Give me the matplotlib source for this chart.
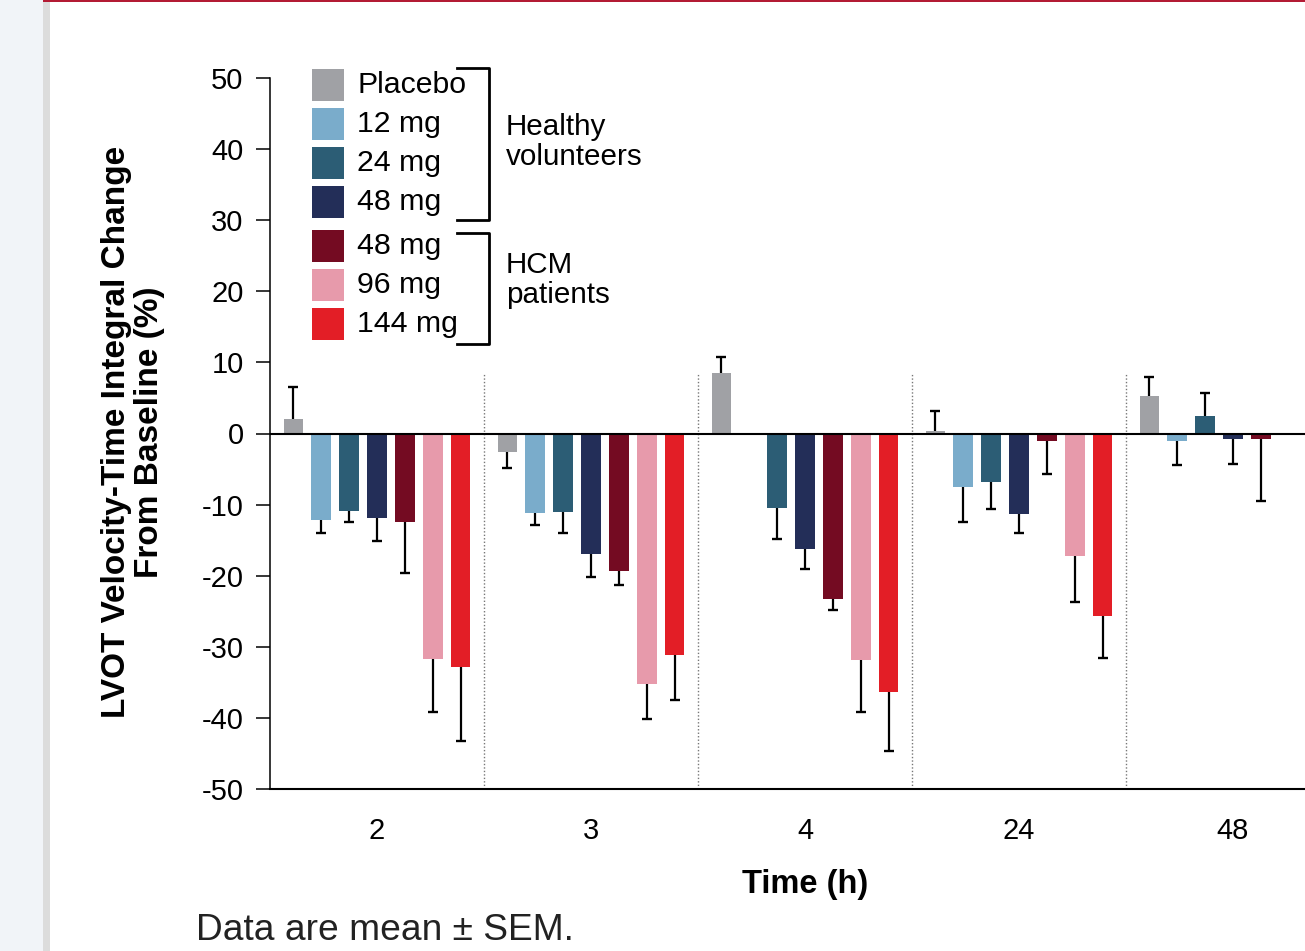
import numpy as np
import matplotlib
matplotlib.use("Agg")
import matplotlib.pyplot as plt
from matplotlib.patches import Rectangle
from matplotlib.lines import Line2D

plt.rcParams['font.family'] = ['Liberation Sans', 'DejaVu Sans']
plt.rcParams['axes.unicode_minus'] = False

# data
times = ['2', '3', '4', '24', '48']
labels = ['Placebo', '12 mg', '24 mg', '48 mg', '48 mg', '96 mg', '144 mg']
colors = ['#a0a1a5', '#7aaccb', '#2c5d75', '#232e58', '#740b22', '#e79aab', '#e31e26']

nan = np.nan
placebo = [2.0, -2.6, 8.5, 0.3, 5.3]
placebo_err = [4.6, 2.2, 2.3, 2.8, 2.6]
hv12 = [-12.2, -11.2, nan, -7.5, -1.1]
hv12_err = [1.8, 1.6, nan, 5.0, 3.4]
hv24 = [-10.9, -11.0, -10.5, -6.8, 2.5]
hv24_err = [1.5, 3.0, 4.4, 3.8, 3.2]
hv48 = [-11.9, -17.0, -16.3, -11.3, -0.8]
hv48_err = [3.2, 3.2, 2.8, 2.7, 3.5]
hcm48 = [-12.5, -19.3, -23.3, -1.1, -0.8]
hcm48_err = [7.1, 2.0, 1.5, 4.6, 8.7]
hcm96 = [-31.7, -35.2, -31.8, -17.2, nan]
hcm96_err = [7.5, 5.0, 7.3, 6.5, nan]
hcm144 = [-32.9, -31.1, -36.3, -25.7, nan]
hcm144_err = [10.4, 6.4, 8.3, 5.9, nan]

series = [placebo, hv12, hv24, hv48, hcm48, hcm96, hcm144]
errors = [placebo_err, hv12_err, hv24_err, hv48_err, hcm48_err, hcm96_err, hcm144_err]

W, H = 1305, 951
def fx(px):
    return px / W
def fy(py):
    return 1 - py / H

fig = plt.figure(figsize=(W / 100, H / 100), dpi=100)
fig.patch.set_facecolor('white')

# page decorations
fig.add_artist(Rectangle((0, 0), fx(43), 1, transform=fig.transFigure, color='#f1f4f8', lw=0))
fig.add_artist(Rectangle((fx(43), 0), fx(7), 1, transform=fig.transFigure, color='#dcdcdc', lw=0))
fig.add_artist(Rectangle((fx(43), fy(2)), 1, 2 / H, transform=fig.transFigure, color='#b31b34', lw=0))

ax = fig.add_axes([fx(270), fy(789), 1070 / W, (789 - 78) / H])
x = np.arange(len(times))
step = 0.1308
width = 0.089

for i, (vals, errs) in enumerate(zip(series, errors)):
    vals = np.array(vals, dtype=float)
    errs = np.array(errs, dtype=float)
    ok = ~np.isnan(vals)
    xs = x[ok] + (i - 3) * step
    v = vals[ok]
    e = errs[ok]
    ax.bar(xs, v, width=width, color=colors[i], zorder=2)
    # one-sided error bars, cap only at the far end
    ends = np.where(v < 0, v - e, v + e)
    ax.vlines(xs, v, ends, color='black', lw=1.6, zorder=3)
    ax.plot(xs, ends, ls='none', marker='_', ms=7.5, mew=1.7, color='black', zorder=3)

ax.axhline(0, color='black', lw=1.5, zorder=4)
for sep in [0.5, 1.5, 2.5, 3.5]:
    ax.plot([sep, sep], [-50, 8.4], color='#777777', lw=1, ls=(0, (1, 1.5)), zorder=1)

ax.set_xlim(-0.5, 4.5)
ax.set_ylim(-50, 50)
ax.set_yticks(range(-50, 51, 10))
ax.set_xticks(x)
ax.set_xticklabels(times)
ax.tick_params(axis='y', length=10, width=1.1, direction='out', pad=9, labelsize=21)
ax.tick_params(axis='x', length=0, pad=20, labelsize=21)
ax.spines['top'].set_visible(False)
ax.spines['right'].set_visible(False)
ax.spines['left'].set_linewidth(1.1)
ax.spines['bottom'].set_linewidth(1.5)
ax.patch.set_alpha(0)

fig.text(fx(133), fy(432), 'LVOT Velocity-Time Integral Change\nFrom Baseline (%)',
         rotation=90, ha='center', va='center', fontsize=24, fontweight='bold', linespacing=1.05)
fig.text(fx(805), fy(885), 'Time (h)', ha='center', va='center', fontsize=23.5, fontweight='bold')
fig.text(fx(196), fy(931), 'Data are mean \u00b1 SEM.', ha='left', va='center', fontsize=26.7, color='#222222')

# legend
rows = [69, 108, 147, 186, 230, 269, 308]
for lab, col, top in zip(labels, colors, rows):
    fig.add_artist(Rectangle((fx(312), fy(top + 32)), 32 / W, 32 / H,
                             transform=fig.transFigure, color=col, lw=0))
    fig.text(fx(357), fy(top + 16), lab, ha='left', va='center', fontsize=21.8)

def bracket(y0, y1):
    fig.add_artist(Line2D([fx(457), fx(489), fx(489), fx(457)],
                          [fy(y0), fy(y0), fy(y1), fy(y1)],
                          transform=fig.transFigure, color='black', lw=2))

bracket(68, 220)
bracket(233, 344)
fig.text(fx(506), fy(142), 'Healthy\nvolunteers', ha='left', va='center', fontsize=21.3, linespacing=1.1)
fig.text(fx(506), fy(280), 'HCM\npatients', ha='left', va='center', fontsize=21.3, linespacing=1.1)

fig.savefig('out.png', dpi=100)
